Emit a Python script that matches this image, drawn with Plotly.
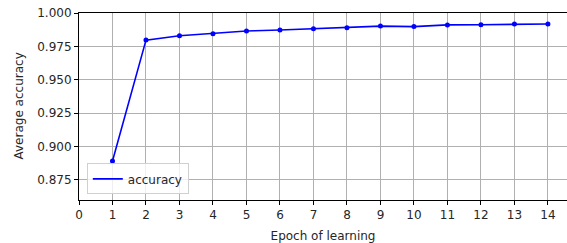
import plotly.graph_objects as go

epochs = [1, 2, 3, 4, 5, 6, 7, 8, 9, 10, 11, 12, 13, 14]
accuracy = [0.8892, 0.9797, 0.9830, 0.9845, 0.9865, 0.9873, 0.9883, 0.9889,
            0.9902, 0.9898, 0.9911, 0.9912, 0.9917, 0.9918]
x_ticks = list(range(0, 15))
y_ticks = [0.875, 0.900, 0.925, 0.950, 0.975, 1.000]

FONT = "DejaVu Sans"
fig = go.Figure()
fig.add_trace(go.Scatter(x=epochs, y=accuracy, mode="lines+markers",
                         line=dict(color="#0000ff", width=1.6),
                         marker=dict(color="#0000ff", size=5),
                         showlegend=False, hoverinfo="skip"))
fig.add_trace(go.Scatter(x=[None], y=[None], mode="lines", name="accuracy",
                         line=dict(color="#0000ff", width=1.6)))

fig.update_layout(
    width=567, height=243,
    margin=dict(l=79, r=0, t=13, b=43),
    paper_bgcolor="white", plot_bgcolor="white",
    font=dict(family=FONT, size=12, color="#262626"),
    legend=dict(x=0.016, y=0.03, xanchor="left", yanchor="bottom",
                bgcolor="rgba(255,255,255,0.8)", bordercolor="#d0d0d0",
                borderwidth=1, font=dict(family=FONT, size=12, color="#262626"),
                itemwidth=30, tracegroupgap=0),
    annotations=[dict(text="Average accuracy", textangle=-90, showarrow=False,
                      xref="paper", yref="paper", x=-0.125, y=0.5,
                      xanchor="center", yanchor="middle",
                      font=dict(family=FONT, size=12, color="#262626"))],
)
fig.update_xaxes(range=[0, 14.57], tickvals=x_ticks, ticktext=[str(t) for t in x_ticks],
                 automargin=False,
                 showgrid=True, gridcolor="#b0b0b0", gridwidth=0.8,
                 showline=True, linecolor="black", linewidth=1, mirror=True,
                 ticks="outside", ticklen=4, tickcolor="black", zeroline=False,
                 title=dict(text="Epoch of learning",
                            font=dict(family=FONT, size=12, color="#262626")))
fig.update_yaxes(range=[0.86, 1.0], tickvals=y_ticks, tickformat=".3f",
                 automargin=False,
                 showgrid=True, gridcolor="#b0b0b0", gridwidth=0.8,
                 showline=True, linecolor="black", linewidth=1,
                 ticks="outside", ticklen=4, tickcolor="black", zeroline=False)
fig.write_html("out.html", config={"displayModeBar": False},
               post_script="document.body.style.margin='0';document.body.style.padding='0';")
